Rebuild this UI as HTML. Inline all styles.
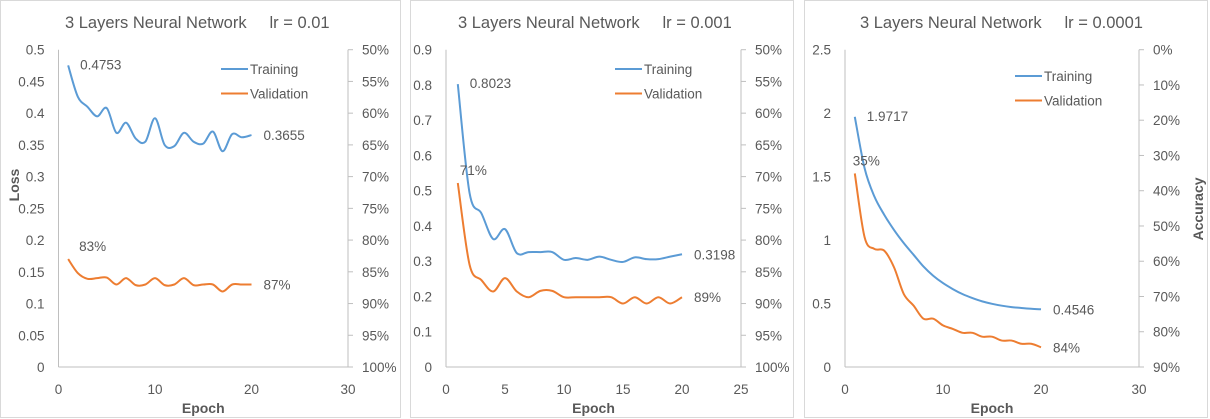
<!DOCTYPE html>
<html><head><meta charset="utf-8">
<style>
body{margin:0;width:1210px;height:419px;background:#fff;overflow:hidden;font-family:"Liberation Sans",sans-serif;}
svg{position:absolute;left:0;top:0}
text{fill:#595959;font-family:"Liberation Sans",sans-serif;white-space:pre;}
</style></head>
<body>
<svg id="c" width="1210" height="419"></svg>
<script>
const epochs=[1,2,3,4,5,6,7,8,9,10,11,12,13,14,15,16,17,18,19,20];
const train1=[0.4753,0.426,0.41,0.395,0.408,0.369,0.385,0.36,0.355,0.392,0.35,0.348,0.369,0.355,0.352,0.371,0.34,0.367,0.362,0.3655];
const val1=[83,85.2,86.1,86,85.9,87,86,87.1,87,86,87.1,87,86,87.1,87,87,88.1,87,87,87];
const train2=[0.8023,0.493,0.436,0.363,0.391,0.323,0.326,0.326,0.326,0.304,0.309,0.304,0.313,0.304,0.298,0.311,0.306,0.306,0.313,0.3198];
const val2=[71,83.9,86.3,88.1,86,88.1,89,88,88,89,89,89,89,89,90,89,90,89,90,89];
const train3=[1.9717,1.566,1.343,1.2,1.08,0.976,0.884,0.792,0.719,0.661,0.614,0.574,0.543,0.517,0.498,0.483,0.472,0.465,0.459,0.4546];
const val3=[35.1,53.2,56.5,57,61.7,69.3,72.6,76.3,76.3,78.2,79.2,80.3,80.3,81.4,81.4,82.5,82.5,83.4,83.4,84.4];
const yTicks1=[0,0.05,0.1,0.15,0.2,0.25,0.3,0.35,0.4,0.45,0.5];
const yTicks2=[0,0.1,0.2,0.3,0.4,0.5,0.6,0.7,0.8,0.9];
const yTicks3=[0,0.5,1,1.5,2,2.5];
const rTicks1=[50,55,60,65,70,75,80,85,90,95,100];
const rTicks3=[0,10,20,30,40,50,60,70,80,90];
const xTicks1=[0,10,20,30];
const xTicks2=[0,5,10,15,20,25];

const NS="http://www.w3.org/2000/svg";
const svg=document.getElementById('c');
function mk(tag,attrs,parent,txt){const e=document.createElementNS(NS,tag);for(const k in attrs)e.setAttribute(k,attrs[k]);if(txt!==undefined)e.textContent=txt;(parent||svg).appendChild(e);return e;}
function smooth(pts){let d=`M${pts[0][0]},${pts[0][1]}`;for(let i=0;i<pts.length-1;i++){const p0=pts[i-1]||pts[i],p1=pts[i],p2=pts[i+1],p3=pts[i+2]||p2;const t=6;d+=` C${p1[0]+(p2[0]-p0[0])/t},${p1[1]+(p2[1]-p0[1])/t} ${p2[0]-(p3[0]-p1[0])/t},${p2[1]-(p3[1]-p1[1])/t} ${p2[0]},${p2[1]}`;}return d;}

function panel(cfg){
  const g=mk('g',{});
  
  
  const b=mk('rect',{x:cfg.bx+0.5,y:0.5,width:cfg.bw,height:417,fill:'#fff',stroke:'#d9d9d9'},g);
  
  const L=cfg.L,R=cfg.R,T=49.7,B=367;
  const xs=v=>L+(v-cfg.xMin)/(cfg.xMax-cfg.xMin)*(R-L);
  const ys=v=>B-(v-cfg.yMin)/(cfg.yMax-cfg.yMin)*(B-T);
  const rs=v=>T+(v-cfg.rMin)/(cfg.rMax-cfg.rMin)*(B-T);
  const t=mk('text',{x:cfg.tx,y:28,'font-size':16.5,'xml:space':'preserve'},g,cfg.title);
  
  mk('line',{x1:L,y1:T,x2:L,y2:B,stroke:'#bfbfbf'},g);
  mk('line',{x1:L,y1:B,x2:R,y2:B,stroke:'#bfbfbf'},g);
  mk('line',{x1:R,y1:T,x2:R,y2:B,stroke:'#bfbfbf'},g);
  cfg.yT.forEach(v=>{const e=mk('text',{x:L-14,y:ys(v)+5,'text-anchor':'end','font-size':13.5},g,String(v));});
  cfg.rT.forEach(v=>{mk('line',{x1:R,y1:rs(v),x2:R+5,y2:rs(v),stroke:'#bfbfbf'},g);const e=mk('text',{x:R+14,y:rs(v)+5,'font-size':13.5},g,v+'%');});
  cfg.xT.forEach(v=>{const e=mk('text',{x:xs(v),y:394,'text-anchor':'middle','font-size':13.5},g,String(v));});
  const xt=mk('text',{x:(L+R)/2,y:413,'text-anchor':'middle','font-size':14,'font-weight':'bold'},g,'Epoch');
  
  const tp=epochs.map((e,i)=>[xs(e),ys(cfg.tr[i])]);
  const vp=epochs.map((e,i)=>[xs(e),rs(cfg.va[i])]);
  const p1=mk('path',{d:smooth(tp),fill:'none',stroke:'#5b9bd5','stroke-width':2},g);
  
  const p2=mk('path',{d:smooth(vp),fill:'none',stroke:'#ed7d31','stroke-width':2},g);
  
  const n=epochs.length-1;
  [[tp[0][0]+12,tp[0][1]+4,String(cfg.tr[0])],[tp[n][0]+12,tp[n][1]+5,String(cfg.tr[n])],
   [vp[0][0]+cfg.vdx,vp[0][1]-8,Math.round(cfg.va[0])+'%'],[vp[n][0]+12,vp[n][1]+5,Math.round(cfg.va[n])+'%']].forEach(a=>{
    const e=mk('text',{x:a[0],y:a[1],'font-size':13.5,fill:'#404040'},g,a[2]);});
  [[cfg.lx,cfg.ly,'#5b9bd5','Training'],[cfg.lx,cfg.ly+24.5,'#ed7d31','Validation']].forEach(a=>{
    const lg=mk('g',{},g);
    mk('line',{x1:a[0],y1:a[1],x2:a[0]+27,y2:a[1],stroke:a[2],'stroke-width':2},lg);
    mk('text',{x:a[0]+29,y:a[1]+5,'font-size':13.5},lg,a[3]);
  });
  return {g,L,R};
}
panel({name:'panel-lr-0.01',bx:0,bw:400,L:58.5,R:348,tx:65,title:'3 Layers Neural Network     lr = 0.01',xMin:0,xMax:30,yMin:0,yMax:0.5,rMin:50,rMax:100,yT:yTicks1,rT:rTicks1,xT:xTicks1,tr:train1,va:val1,lx:221,ly:69,vdx:11});
panel({name:'panel-lr-0.001',bx:410,bw:383,L:446,R:741,tx:458,title:'3 Layers Neural Network     lr = 0.001',xMin:0,xMax:25,yMin:0,yMax:0.9,rMin:50,rMax:100,yT:yTicks2,rT:rTicks1,xT:xTicks2,tr:train2,va:val2,lx:615,ly:69,vdx:2});
panel({name:'panel-lr-0.0001',bx:804,bw:403,L:845,R:1139,tx:860,title:'3 Layers Neural Network     lr = 0.0001',xMin:0,xMax:30,yMin:0,yMax:2.5,rMin:0,rMax:90,yT:yTicks3,rT:rTicks3,xT:xTicks1,tr:train3,va:val3,lx:1015,ly:76,vdx:-2});
const lt=mk('text',{x:0,y:0,'font-size':14,'font-weight':'bold',transform:'translate(19,185) rotate(-90)','text-anchor':'middle'},svg,'Loss');

const at=mk('text',{x:0,y:0,'font-size':14,'font-weight':'bold',transform:'translate(1203,209) rotate(-90)','text-anchor':'middle'},svg,'Accuracy');

</script>
</body></html>
